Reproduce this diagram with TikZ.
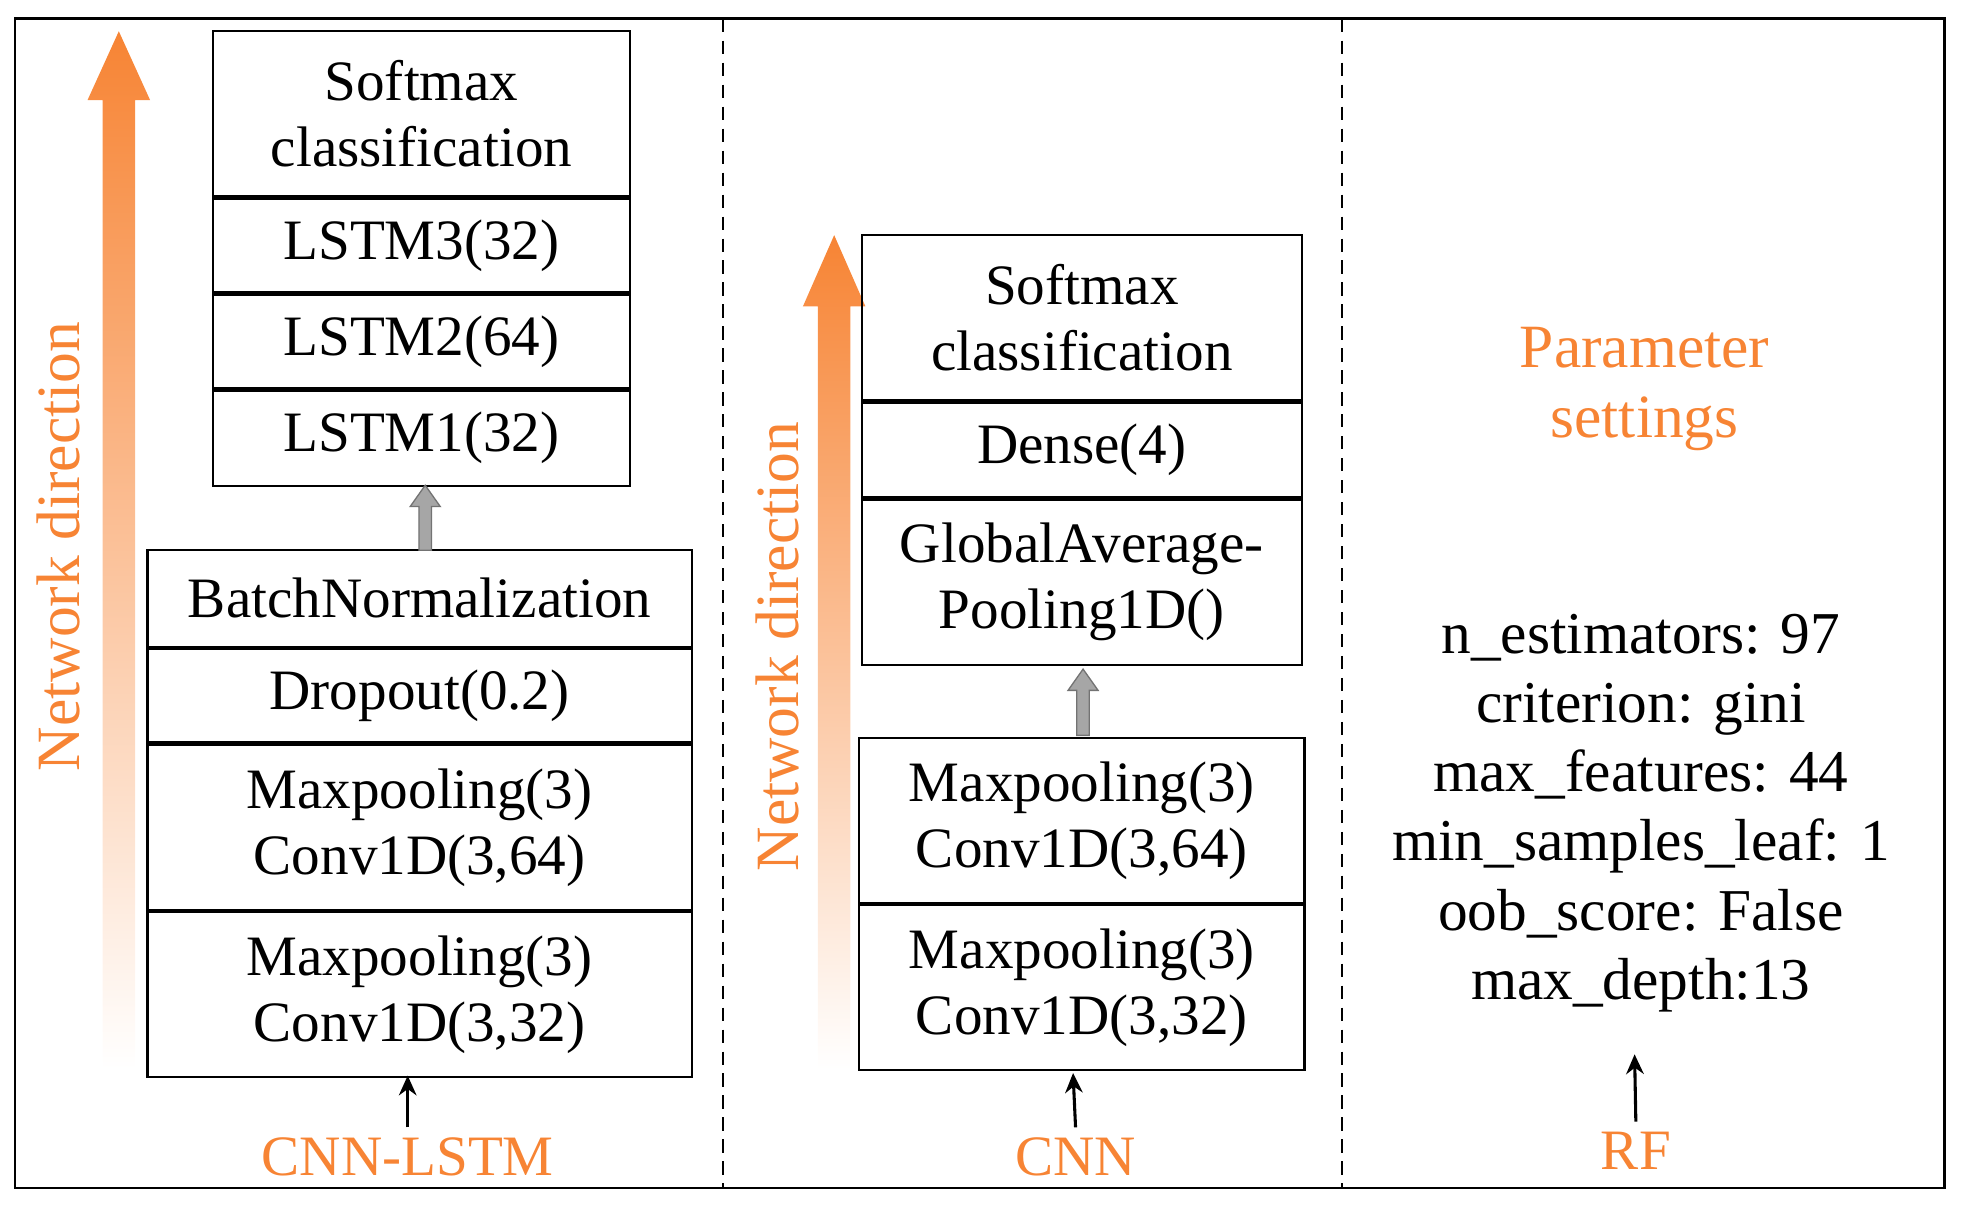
\documentclass[tikz,border=0pt]{standalone}
\usepackage{fontspec}
\usetikzlibrary{arrows.meta}
\setmainfont{Liberation Serif}
\begin{document}
\definecolor{org}{RGB}{247,132,52}
\begin{tikzpicture}[x=0.02cm,y=-0.02cm,
  box/.style={draw,line width=1pt},
  txt/.style={font=\fontsize{26}{30}\selectfont,align=center},
  otxt/.style={txt,text=org},
  garrow/.style={fill=gray!70,draw=gray!90!black,line width=0.6pt},
  barrow/.style={-{Stealth[length=9pt,width=8pt]},line width=1.4pt},
  dsh/.style={dash pattern=on 6pt off 4pt,line width=1pt}]
\useasboundingbox (0,0) rectangle (1568,965);
\draw[line width=1.2pt] (12,15) rectangle (1555,950);
\draw[dsh] (578,15) -- (578,950);
\draw[dsh] (1073,15) -- (1073,950);
% big arrows
\shade[top color=org,bottom color=white] (82,855) -- (82,80) -- (70,80) -- (95,25) -- (120,80) -- (108,80) -- (108,855) -- cycle;
\node[otxt,rotate=90,font=\fontsize{28}{32}\selectfont] (nd1) at (47,437) {Network direction};
\shade[top color=org,bottom color=white] (654,855) -- (654,245) -- (642,245) -- (667,188) -- (692,245) -- (680,245) -- (680,855) -- cycle;
\node[otxt,rotate=90,font=\fontsize{28}{32}\selectfont] (nd2) at (622,517) {Network direction};
% stack 1
\node[box,minimum width=334*0.02cm,minimum height=132*0.02cm,txt] (s1a) at (337,91) {Softmax\\classification};
\node[box,minimum width=334*0.02cm,minimum height=75*0.02cm,txt,anchor=north] (s1b) at (s1a.south) {LSTM3(32)};
\node[box,minimum width=334*0.02cm,minimum height=75*0.02cm,txt,anchor=north] (s1c) at (s1b.south) {LSTM2(64)};
\node[box,minimum width=334*0.02cm,minimum height=76*0.02cm,txt,anchor=north] (s1d) at (s1c.south) {LSTM1(32)};
\node[box,minimum width=435*0.02cm,minimum height=77*0.02cm,txt] (s2a) at (335.5,478.5) {BatchNormalization};
\node[box,minimum width=435*0.02cm,minimum height=75*0.02cm,txt,anchor=north] (s2b) at (s2a.south) {Dropout(0.2)};
\node[box,minimum width=435*0.02cm,minimum height=132*0.02cm,txt,anchor=north] (s2c) at (s2b.south) {Maxpooling(3)\\Conv1D(3,64)};
\node[box,minimum width=435*0.02cm,minimum height=132*0.02cm,txt,anchor=north] (s2d) at (s2c.south) {Maxpooling(3)\\Conv1D(3,32)};
\draw[garrow] (335,440) -- (335,405) -- (328,405) -- (340,388) -- (352,405) -- (345,405) -- (345,440) -- cycle;
\node[otxt] (l1) at (326,925) {CNN-LSTM};
\draw[barrow] (l1.north) ++(0,-2) -- (326,860);
% stack middle
\node[box,minimum width=352*0.02cm,minimum height=132*0.02cm,txt] (m1a) at (865,254) {Softmax\\classification};
\node[box,minimum width=352*0.02cm,minimum height=76*0.02cm,txt,anchor=north] (m1b) at (m1a.south) {Dense(4)};
\node[box,minimum width=352*0.02cm,minimum height=132*0.02cm,txt,anchor=north] (m1c) at (m1b.south) {GlobalAverage-\\Pooling1D()};
\node[box,minimum width=356*0.02cm,minimum height=132*0.02cm,txt] (m2a) at (865,656) {Maxpooling(3)\\Conv1D(3,64)};
\node[box,minimum width=356*0.02cm,minimum height=132*0.02cm,txt,anchor=north] (m2b) at (m2a.south) {Maxpooling(3)\\Conv1D(3,32)};
\draw[garrow] (861,588) -- (861,552) -- (854,552) -- (866,535) -- (878,552) -- (871,552) -- (871,588) -- cycle;
\node[otxt] (l2) at (860,925) {CNN};
\draw[barrow] (l2.north) ++(0,-2) -- (858,858);
% right
\node[otxt,font=\fontsize{28}{32}\selectfont] (ps) at (1315,311) {Parameter\\settings};
\node[txt,font=\fontsize{27}{31.5}\selectfont] (par) at (1312,650) {n\_estimators: 97\\criterion: gini\\max\_features: 44\\min\_samples\_leaf: 1\\oob\_score: False\\max\_depth:13};
\node[otxt] (l3) at (1308,920) {RF};
\draw[barrow] (l3.north) ++(0,-2) -- (1307,843);
\end{tikzpicture}
\end{document}
